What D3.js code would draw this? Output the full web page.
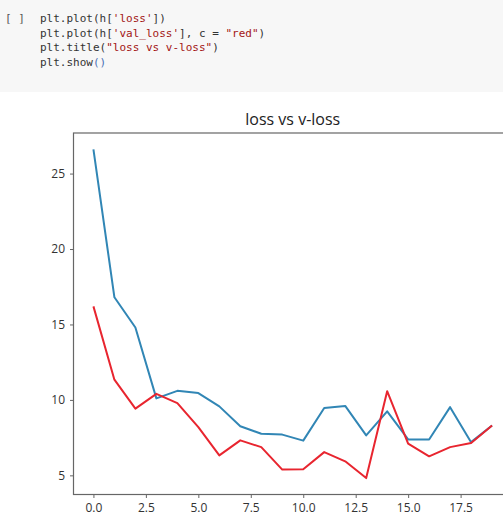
<!DOCTYPE html>
<html>
<head>
<meta charset="utf-8">
<script src="https://cdn.jsdelivr.net/npm/d3@7"></script>
<style>
  body { margin: 0; background: #fff; }
  svg { display: block; }
</style>
</head>
<body>
<div id="container"></div>
<script>
// history values
var epochs = d3.range(20);
var loss    = [26.6, 16.8, 14.8, 10.1, 10.6, 10.45, 9.57, 8.25, 7.76, 7.7, 7.3, 9.46, 9.6, 7.65, 9.24, 7.38, 7.38, 9.52, 7.2, 8.3];
var valLoss = [16.2, 11.34, 9.42, 10.4, 9.79, 8.2, 6.32, 7.32, 6.87, 5.38, 5.4, 6.54, 5.93, 4.82, 10.58, 7.1, 6.26, 6.87, 7.14, 8.3];
var xTicks = [0, 2.5, 5, 7.5, 10, 12.5, 15, 17.5];
var yTicks = [5, 10, 15, 20, 25];
var codeLines = [
  [["plt.plot(h[", "#333"], ["'loss'", "#a31515"], ["])", "#333"]],
  [["plt.plot(h[", "#333"], ["'val_loss'", "#a31515"], ["], c = ", "#333"], ["\"red\"", "#a31515"], [")", "#333"]],
  [["plt.title(", "#333"], ["\"loss vs v-loss\"", "#a31515"], [")", "#333"]],
  [["plt.show", "#333"], ["()", "#4a6fb5"]]
];

var W = 503, H = 522;
var margin = {top: 133, left: 73.5, right: 512, bottom: 494.5};

var svg = d3.select("#container").append("svg")
    .attr("width", W)
    .attr("height", H);

// notebook code cell
svg.append("rect")
    .attr("x", 0).attr("y", 0)
    .attr("width", W).attr("height", 92)
    .attr("fill", "#f7f7f7");

svg.append("text")
    .attr("x", 5).attr("y", 22)
    .attr("font-family", "DejaVu Sans Mono")
    .attr("font-size", 11)
    .attr("fill", "#555")
    .text("[ ]");

codeLines.forEach(function(parts, i) {
  var t = svg.append("text")
      .attr("x", 40).attr("y", 22 + i * 14.7)
      .attr("font-family", "DejaVu Sans Mono")
      .attr("font-size", 11)
      .attr("xml:space", "preserve");
  parts.forEach(function(p) {
    t.append("tspan").attr("fill", p[1]).text(p[0]);
  });
});

// chart
var pad = (d3.max(loss) - d3.min(valLoss)) * 0.05;
var x = d3.scaleLinear()
    .domain([-0.95, 19.95])
    .range([margin.left, margin.right]);

var y = d3.scaleLinear()
    .domain([d3.min(valLoss) - pad, d3.max(loss) + pad])
    .range([margin.bottom, margin.top]);

var line = d3.line()
    .x(function(d, i) { return x(epochs[i]); })
    .y(function(d) { return y(d); });

svg.append("path")
    .datum(loss)
    .attr("d", line)
    .attr("fill", "none")
    .attr("stroke", "#3186b5")
    .attr("stroke-width", 2)
    .attr("stroke-linejoin", "round");

svg.append("path")
    .datum(valLoss)
    .attr("d", line)
    .attr("fill", "none")
    .attr("stroke", "#e8252f")
    .attr("stroke-width", 2)
    .attr("stroke-linejoin", "round");

var xAxis = d3.axisBottom(x)
    .tickValues(xTicks)
    .tickFormat(d3.format(".1f"))
    .tickSizeInner(3.5)
    .tickSizeOuter(0)
    .tickPadding(5);

var yAxis = d3.axisLeft(y)
    .tickValues(yTicks)
    .tickFormat(d3.format("d"))
    .tickSizeInner(3.5)
    .tickSizeOuter(0)
    .tickPadding(5);

var gx = svg.append("g")
    .attr("transform", "translate(0," + margin.bottom + ")")
    .call(xAxis);

var gy = svg.append("g")
    .attr("transform", "translate(" + margin.left + ",0)")
    .call(yAxis);

[gx, gy].forEach(function(g) {
  g.select(".domain").remove();
  g.selectAll(".tick line").attr("stroke", "#666");
  g.selectAll(".tick text")
      .attr("font-family", "Open Sans")
      .attr("font-size", 12)
      .attr("fill", "#333");
});

// spines
svg.append("rect")
    .attr("x", margin.left).attr("y", margin.top)
    .attr("width", margin.right - margin.left)
    .attr("height", margin.bottom - margin.top)
    .attr("fill", "none")
    .attr("stroke", "#666")
    .attr("stroke-width", 1.2);

svg.append("text")
    .attr("x", (margin.left + margin.right) / 2)
    .attr("y", 125)
    .attr("text-anchor", "middle")
    .attr("font-family", "Open Sans")
    .attr("font-size", 16)
    .attr("fill", "#222")
    .text("loss vs v-loss");
</script>
</body>
</html>
